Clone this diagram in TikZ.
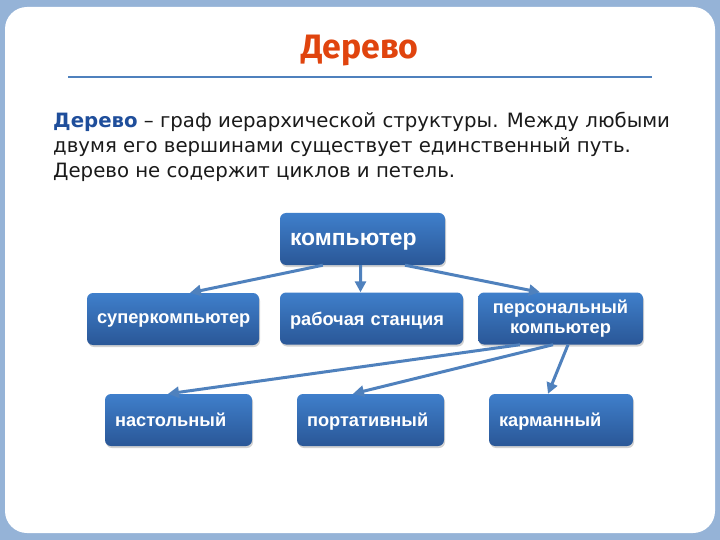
\documentclass[tikz,border=0pt]{standalone}
\usepackage{fontspec}
\setmainfont{DejaVu Sans}
\newfontfamily\titlefont{Fira Sans}
\newfontfamily\boxfont{Liberation Sans}
\usetikzlibrary{arrows.meta,shadows}

\definecolor{pagebg}{HTML}{95B3D7}
\definecolor{titlered}{HTML}{E0440E}
\definecolor{rulecol}{HTML}{4F81BD}
\definecolor{boxtop}{HTML}{3F7FCB}
\definecolor{boxbot}{HTML}{2A5797}
\definecolor{arrcol}{HTML}{4F81BD}
\definecolor{termcol}{HTML}{1F4E9B}
\definecolor{textcol}{HTML}{1A1A1A}

\begin{document}
\begin{tikzpicture}[
                x = 1bp, y = -1bp,
                box/.style = {rounded corners = 6bp, top color = boxtop, bottom color = boxbot,
                    text = white, inner xsep = 10bp, inner ysep = 0bp, minimum height = 52bp, text depth = 0bp,
                    font = \boxfont\bfseries\fontsize{18.3}{20}\selectfont,
                    drop shadow = {shadow xshift = 1bp, shadow yshift = -2bp, opacity = 0.35}},
                arr/.style = {draw = arrcol, line width = 3bp, -{Triangle[length = 11bp, width = 11bp]}},
            ]
            \useasboundingbox (0,0) rectangle (720,540);
            \fill[pagebg] (0,0) rectangle (720,540);
            \fill[white, rounded corners = 22bp] (5,7) rectangle (715,533);

            \node (title) [font = \titlefont\bfseries\fontsize{34}{38}\selectfont, text = titlered] at (360,51) {Дерево};
            \draw[rulecol, line width = 2bp] (68,77) -- (652,77);

            \node (def) [anchor = north west, inner sep = 0pt, align = left, text = textcol,
                font = \fontsize{19.8}{25}\selectfont] at (53,112)
                {{\bfseries\color{termcol}Дерево} – граф иерархической структуры. Между любыми\\
                 двумя его вершинами существует единственный путь.\\
                 Дерево не содержит циклов и петель.};

            \node (comp) [box, text width = 145bp, align = left, font = \boxfont\bfseries\fontsize{23}{25}\selectfont] at (362.5,239) {компьютер};

            \node (super) [box, text width = 152bp, align = center] at (173,319) {суперкомпьютер};
            \node (work) [box, text width = 163bp, align = left] at (371.5,318.5) {рабочая станция};
            \node (pers) [box, text width = 145bp, align = center, text depth = {}] at (560.5,318.5) {персональный\\компьютер};

            \node (desk) [box, text width = 127bp, align = left] at (178.5,420) {настольный};
            \node (port) [box, text width = 127bp, align = left] at (370.5,420) {портативный};
            \node (pocket) [box, text width = 124bp, align = left] at (561,420) {карманный};

            \path[arr] ([xshift = 43bp]comp.south west) -- ([xshift = 17bp]super.north);
            \path[arr] ([xshift = -2bp]comp.south) -- ([xshift = -11bp]work.north);
            \path[arr] ([xshift = 42.5bp]comp.south) -- ([xshift = -20.5bp]pers.north);

            \path[arr] ([xshift = -40.5bp]pers.south) -- ([xshift = -10.5bp]desk.north);
            \path[arr] ([xshift = -7.5bp]pers.south) -- ([xshift = -17.5bp]port.north);
            \path[arr] ([xshift = 7.5bp]pers.south) -- ([xshift = -13bp]pocket.north);
        \end{tikzpicture}
\end{document}
